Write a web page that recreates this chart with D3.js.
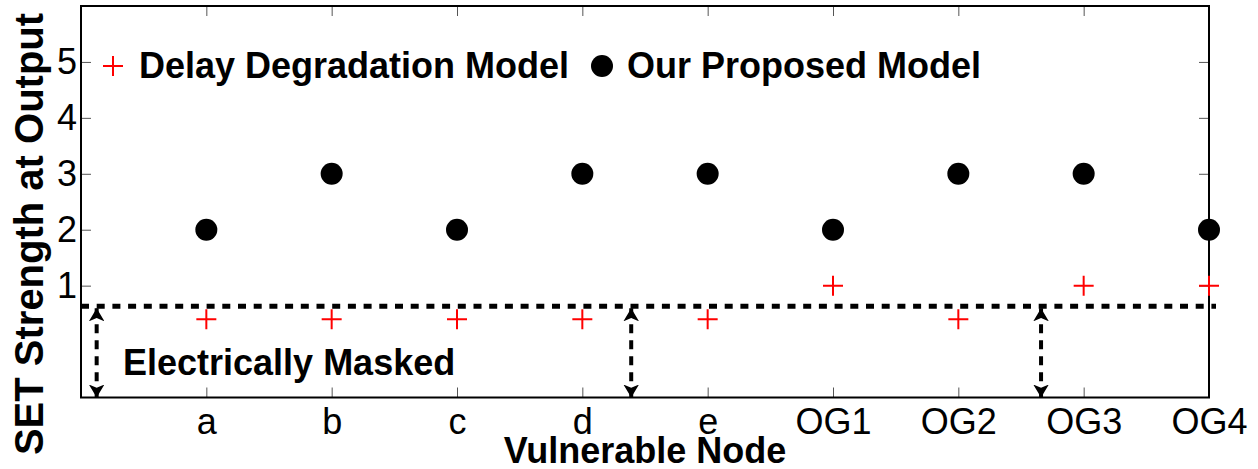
<!DOCTYPE html>
<html>
<head>
<meta charset="utf-8">
<script src="https://cdn.jsdelivr.net/npm/d3@7"></script>
<style>
  body { margin: 0; background: #fff; }
  svg { display: block; font-family: "Liberation Sans", Arial, sans-serif; }
</style>
</head>
<body>
<div id="chart"></div>
<script>
var width = 1258;
var height = 469;

// categories on the x axis
var nodes = ["a", "b", "c", "d", "e", "OG1", "OG2", "OG3", "OG4"];
// SET strength, delay degradation model (red +)
var delayModel = [0.4, 0.4, 0.4, 0.4, 0.4, 1, 0.4, 1, 1];
// SET strength, our proposed model (black dots)
var proposedModel = [2, 3, 2, 3, 3, 2, 3, 3, 2];
var yTicks = [1, 2, 3, 4, 5];

// masking threshold and the arrow positions (x in category units)
var maskLevel = 0.63;
var arrowX = [0.125, 4.39, 7.66];

var margin = {left: 81, right: 1209, top: 6, bottom: 397.5};

var svg = d3.select("#chart").append("svg")
  .attr("width", width)
  .attr("height", height);

var x = d3.scaleLinear().domain([0, 9]).range([margin.left, margin.right]);
var y = d3.scaleLinear().domain([-1, 6]).range([margin.bottom, margin.top]);

// arrow head markers
var defs = svg.append("defs");
defs.append("marker")
  .attr("id", "head")
  .attr("viewBox", "0 0 10 12")
  .attr("refX", 10).attr("refY", 6)
  .attr("markerWidth", 13).attr("markerHeight", 15.6)
  .attr("orient", "auto-start-reverse")
  .attr("markerUnits", "userSpaceOnUse")
  .append("path")
  .attr("d", "M0,0 L10,6 L0,12 L2.5,6 Z")
  .attr("fill", "#000");

// axes, ticks pointing inward on all four sides
function styleAxis(g) {
  g.select(".domain").remove();
  g.selectAll(".tick line").attr("stroke", "#555").attr("stroke-width", 1);
  g.selectAll(".tick text").attr("fill", "#000");
}

svg.append("g")
  .attr("transform", "translate(0," + margin.bottom + ")")
  .call(d3.axisBottom(x)
    .tickValues(d3.range(1, nodes.length + 1))
    .tickFormat(function(d) { return nodes[d - 1]; })
    .tickSizeInner(-10).tickSizeOuter(0))
  .call(styleAxis)
  .selectAll(".tick text")
  .attr("font-size", 36)
  .attr("dy", 0)
  .attr("y", 36);

svg.append("g")
  .attr("transform", "translate(0," + margin.top + ")")
  .call(d3.axisTop(x)
    .tickValues(d3.range(1, nodes.length + 1))
    .tickFormat("")
    .tickSizeInner(-10).tickSizeOuter(0))
  .call(styleAxis);

svg.append("g")
  .attr("transform", "translate(" + margin.left + ",0)")
  .call(d3.axisLeft(y).tickValues(yTicks)
    .tickFormat(d3.format("d"))
    .tickSizeInner(-10).tickSizeOuter(0))
  .call(styleAxis)
  .selectAll(".tick text")
  .attr("font-size", 36)
  .attr("x", -4);

svg.append("g")
  .attr("transform", "translate(" + margin.right + ",0)")
  .call(d3.axisRight(y).tickValues(yTicks).tickFormat("")
    .tickSizeInner(-10).tickSizeOuter(0))
  .call(styleAxis);

// plot box
svg.append("rect")
  .attr("x", margin.left)
  .attr("y", margin.top)
  .attr("width", margin.right - margin.left)
  .attr("height", margin.bottom - margin.top)
  .attr("fill", "none")
  .attr("stroke", "#000")
  .attr("stroke-width", 2);

// masking threshold
svg.append("line")
  .attr("x1", x(0)).attr("x2", x(9) + 7)
  .attr("y1", y(maskLevel)).attr("y2", y(maskLevel))
  .attr("stroke", "#000")
  .attr("stroke-width", 5)
  .attr("stroke-dasharray", "8,7.7");

// double arrows
svg.selectAll(".arrow")
  .data(arrowX)
  .enter()
  .append("line")
  .attr("class", "arrow")
  .attr("x1", function(d) { return x(d); })
  .attr("x2", function(d) { return x(d); })
  .attr("y1", y(maskLevel) + 2)
  .attr("y2", margin.bottom)
  .attr("stroke", "#000")
  .attr("stroke-width", 4)
  .attr("stroke-dasharray", "9,7")
  .attr("marker-start", "url(#head)")
  .attr("marker-end", "url(#head)");

svg.append("text")
  .attr("x", 123)
  .attr("y", 375)
  .attr("font-size", 36)
  .attr("font-weight", "bold")
  .text("Electrically Masked");

// proposed model dots
svg.selectAll(".dot")
  .data(proposedModel)
  .enter()
  .append("circle")
  .attr("class", "dot")
  .attr("cx", function(d, i) { return x(i + 1); })
  .attr("cy", function(d) { return y(d); })
  .attr("r", 11)
  .attr("fill", "#000");

// delay model plus markers
var plus = "M-10,0 H10 M0,-10 V10";
svg.selectAll(".plus")
  .data(delayModel)
  .enter()
  .append("path")
  .attr("class", "plus")
  .attr("transform", function(d, i) {
    return "translate(" + x(i + 1) + "," + y(d) + ")";
  })
  .attr("d", plus)
  .attr("stroke", "#ff0000")
  .attr("stroke-width", 2)
  .attr("fill", "none");

// legend
var legend = svg.append("g");
legend.append("path")
  .attr("transform", "translate(113,66)")
  .attr("d", plus)
  .attr("stroke", "#ff0000")
  .attr("stroke-width", 2);
legend.append("text")
  .attr("x", 139).attr("y", 78)
  .attr("font-size", 36).attr("font-weight", "bold")
  .text("Delay Degradation Model");
legend.append("circle")
  .attr("cx", 602).attr("cy", 66).attr("r", 11)
  .attr("fill", "#000");
legend.append("text")
  .attr("x", 627).attr("y", 78)
  .attr("font-size", 36).attr("font-weight", "bold")
  .text("Our Proposed Model");

// axis titles
svg.append("text")
  .attr("x", (margin.left + margin.right) / 2)
  .attr("y", 463)
  .attr("text-anchor", "middle")
  .attr("font-size", 36)
  .attr("font-weight", "bold")
  .text("Vulnerable Node");

svg.append("text")
  .attr("transform", "translate(43,234) rotate(-90)")
  .attr("text-anchor", "middle")
  .attr("font-size", 40)
  .attr("font-weight", "bold")
  .text("SET Strength at Output");
</script>
</body>
</html>
